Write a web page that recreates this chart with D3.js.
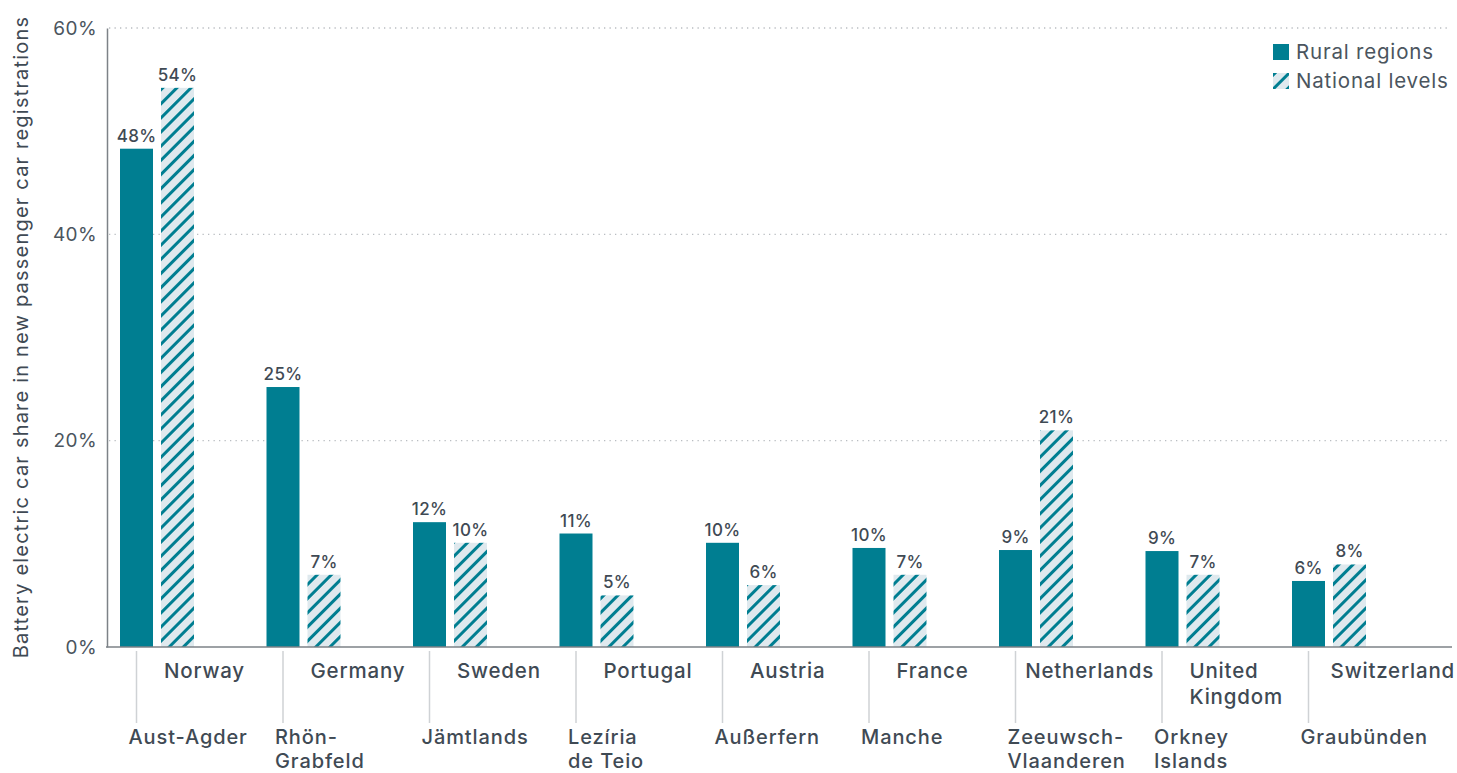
<!DOCTYPE html>
<html>
<head>
<meta charset="utf-8">
<script src="https://cdn.jsdelivr.net/npm/d3@7"></script>
<style>
  html, body { margin: 0; padding: 0; background: #fff; }
  svg { display: block; font-family: Inter, "Open Sans", sans-serif; }
</style>
</head>
<body>
<svg id="chart" width="1457" height="773"></svg>
<script>
// Battery electric car share: rural regions vs national levels
const countries = ["Norway", "Germany", "Sweden", "Portugal", "Austria", "France", "Netherlands", "United Kingdom", "Switzerland"];
const regions = ["Aust-Agder", "Rhön-Grabfeld", "Jämtlands", "Lezíria de Teio", "Außerfern", "Manche", "Zeeuwsch-Vlaanderen", "Orkney Islands", "Graubünden"];
const ruralValues = [48.3, 25.2, 12.1, 11.0, 10.1, 9.6, 9.4, 9.3, 6.4];
const nationalValues = [54.2, 7.0, 10.1, 5.0, 6.0, 7.0, 21.0, 7.0, 8.0];
const yTicks = [0, 20, 40, 60];
const seriesNames = ["Rural regions", "National levels"];

// Line breaks used for the two-line category labels
const countryLines = [["Norway"], ["Germany"], ["Sweden"], ["Portugal"], ["Austria"], ["France"], ["Netherlands"], ["United", "Kingdom"], ["Switzerland"]];
const regionLines = [["Aust-Agder"], ["Rhön-", "Grabfeld"], ["Jämtlands"], ["Lezíria", "de Teio"], ["Außerfern"], ["Manche"], ["Zeeuwsch-", "Vlaanderen"], ["Orkney", "Islands"], ["Graubünden"]];

const teal = "#007e91";
const textColor = "#3f4a54";
const axisColor = "#7d8287";

const svg = d3.select("#chart");
const width = 1457;
const margin = { left: 107, top: 28 };
const plotBottom = 647;
const groupStep = 146.5;

const x = d3.scaleBand()
  .domain(countries)
  .range([margin.left, margin.left + groupStep * countries.length])
  .paddingInner(0).paddingOuter(0);

const xSub = d3.scaleBand()
  .domain(["rural", "national"])
  .range([13, 87])
  .paddingInner(0.1951).paddingOuter(0);

const y = d3.scaleLinear().domain([0, 60]).range([plotBottom, margin.top]);

// Hatch pattern for national levels
const defs = svg.append("defs");
const pat = defs.append("pattern")
  .attr("id", "hatch")
  .attr("patternUnits", "userSpaceOnUse")
  .attr("width", 10).attr("height", 10)
  .attr("patternTransform", "rotate(45)");
pat.append("rect").attr("width", 10).attr("height", 10).attr("fill", "#dfe9ee");
pat.append("rect").attr("x", 0).attr("width", 3).attr("height", 10).attr("fill", teal);

// Gridlines
svg.append("g").selectAll("line")
  .data(yTicks.filter(t => t > 0))
  .join("line")
  .attr("x1", margin.left + 2).attr("x2", 1450)
  .attr("y1", d => y(d)).attr("y2", d => y(d))
  .attr("stroke", "#b9bdc1")
  .attr("stroke-width", 1.3)
  .attr("stroke-dasharray", "1.3,4.2");

// Y axis
const yAxis = svg.append("g")
  .attr("transform", `translate(${margin.left},0)`)
  .call(d3.axisLeft(y).tickValues(yTicks).tickFormat(d => d + "%").tickSize(0).tickPadding(10));
yAxis.select(".domain").attr("stroke", axisColor).attr("stroke-width", 1.5);
yAxis.selectAll("text")
  .attr("fill", "#4b555e")
  .style("font-size", "19px")
  .style("letter-spacing", "0.4px")
  .style("font-family", "Inter, sans-serif");

svg.append("text")
  .attr("transform", `translate(28,337) rotate(-90)`)
  .attr("text-anchor", "middle")
  .attr("fill", textColor)
  .style("font-size", "20px")
  .style("letter-spacing", "1.2px")
  .text("Battery electric car share in new passenger car registrations");

// Bars
const groups = svg.append("g").selectAll("g")
  .data(countries.map((c, i) => ({ country: c, rural: ruralValues[i], national: nationalValues[i] })))
  .join("g")
  .attr("transform", d => `translate(${x(d.country)},0)`);

groups.append("rect")
  .attr("x", xSub("rural"))
  .attr("width", xSub.bandwidth())
  .attr("y", d => y(d.rural))
  .attr("height", d => y(0) - y(d.rural))
  .attr("fill", teal);

groups.append("rect")
  .attr("x", xSub("national"))
  .attr("width", xSub.bandwidth())
  .attr("y", d => y(d.national))
  .attr("height", d => y(0) - y(d.national))
  .attr("fill", "url(#hatch)");

// Value labels
const labelStyle = sel => sel
  .attr("text-anchor", "middle")
  .attr("fill", textColor)
  .style("font-size", "17px")
  .style("font-weight", 500)
  .style("letter-spacing", "0.3px");

groups.append("text")
  .attr("x", xSub("rural") + xSub.bandwidth() / 2)
  .attr("y", d => y(d.rural) - 7)
  .text(d => Math.round(d.rural) + "%")
  .call(labelStyle);

groups.append("text")
  .attr("x", xSub("national") + xSub.bandwidth() / 2)
  .attr("y", d => y(d.national) - 7)
  .text(d => Math.round(d.national) + "%")
  .call(labelStyle);

// Bottom axis line
svg.append("line")
  .attr("x1", margin.left - 1).attr("x2", 1452)
  .attr("y1", plotBottom).attr("y2", plotBottom)
  .attr("stroke", axisColor).attr("stroke-width", 1.5);

// Category separators below the axis, centred under the rural bars
const sepX = c => x(c) + xSub("rural") + xSub.bandwidth() / 2;
svg.append("g").selectAll("line")
  .data(countries)
  .join("line")
  .attr("x1", sepX).attr("x2", sepX)
  .attr("y1", 651).attr("y2", 723)
  .attr("stroke", "#cfd2d5").attr("stroke-width", 1.5);

const catWeight = 500;
const catSpacing = "0.8px";

// Country labels (inner level)
const countryText = svg.append("g").selectAll("text")
  .data(countries)
  .join("text")
  .attr("fill", textColor)
  .style("font-size", "20.5px")
  .style("font-weight", catWeight)
  .style("letter-spacing", catSpacing);
countryText.each(function (c, i) {
  const t = d3.select(this);
  countryLines[i].forEach((line, k) => {
    t.append("tspan").attr("x", 0).attr("y", 678 + k * 26).text(line);
  });
});
// left-align at the national bar, shifting left if it would run into the next separator or the edge
countryText.each(function (c, i) {
  const w = this.getBBox().width;
  let left = x(c) + xSub("national") + 3;
  const limit = i < countries.length - 1 ? sepX(countries[i + 1]) - 8 : width - 2;
  if (left + w > limit) left = limit - w;
  d3.select(this).attr("transform", `translate(${left},0)`);
});

// Region labels (outer level)
const regionText = svg.append("g").selectAll("text")
  .data(countries)
  .join("text")
  .attr("fill", textColor)
  .style("font-size", "20px")
  .style("font-weight", catWeight)
  .style("letter-spacing", "0.9px")
  .attr("transform", c => `translate(${sepX(c) - 8},0)`);
regionText.each(function (c, i) {
  const t = d3.select(this);
  regionLines[i].forEach((line, k) => {
    t.append("tspan").attr("x", 0).attr("y", 744 + k * 24.3).text(line);
  });
});

// Legend
const legend = svg.append("g").attr("transform", "translate(1273,44)");
seriesNames.forEach((name, i) => {
  const row = legend.append("g").attr("transform", `translate(0,${i * 29})`);
  row.append("rect").attr("width", 16).attr("height", 16)
    .attr("fill", i === 0 ? teal : "url(#hatch)");
  row.append("text").attr("x", 23).attr("y", 15)
    .attr("fill", "#4b555e")
    .style("font-size", "20.5px")
    .style("letter-spacing", "0.8px")
    .text(name);
});
</script>
</body>
</html>
